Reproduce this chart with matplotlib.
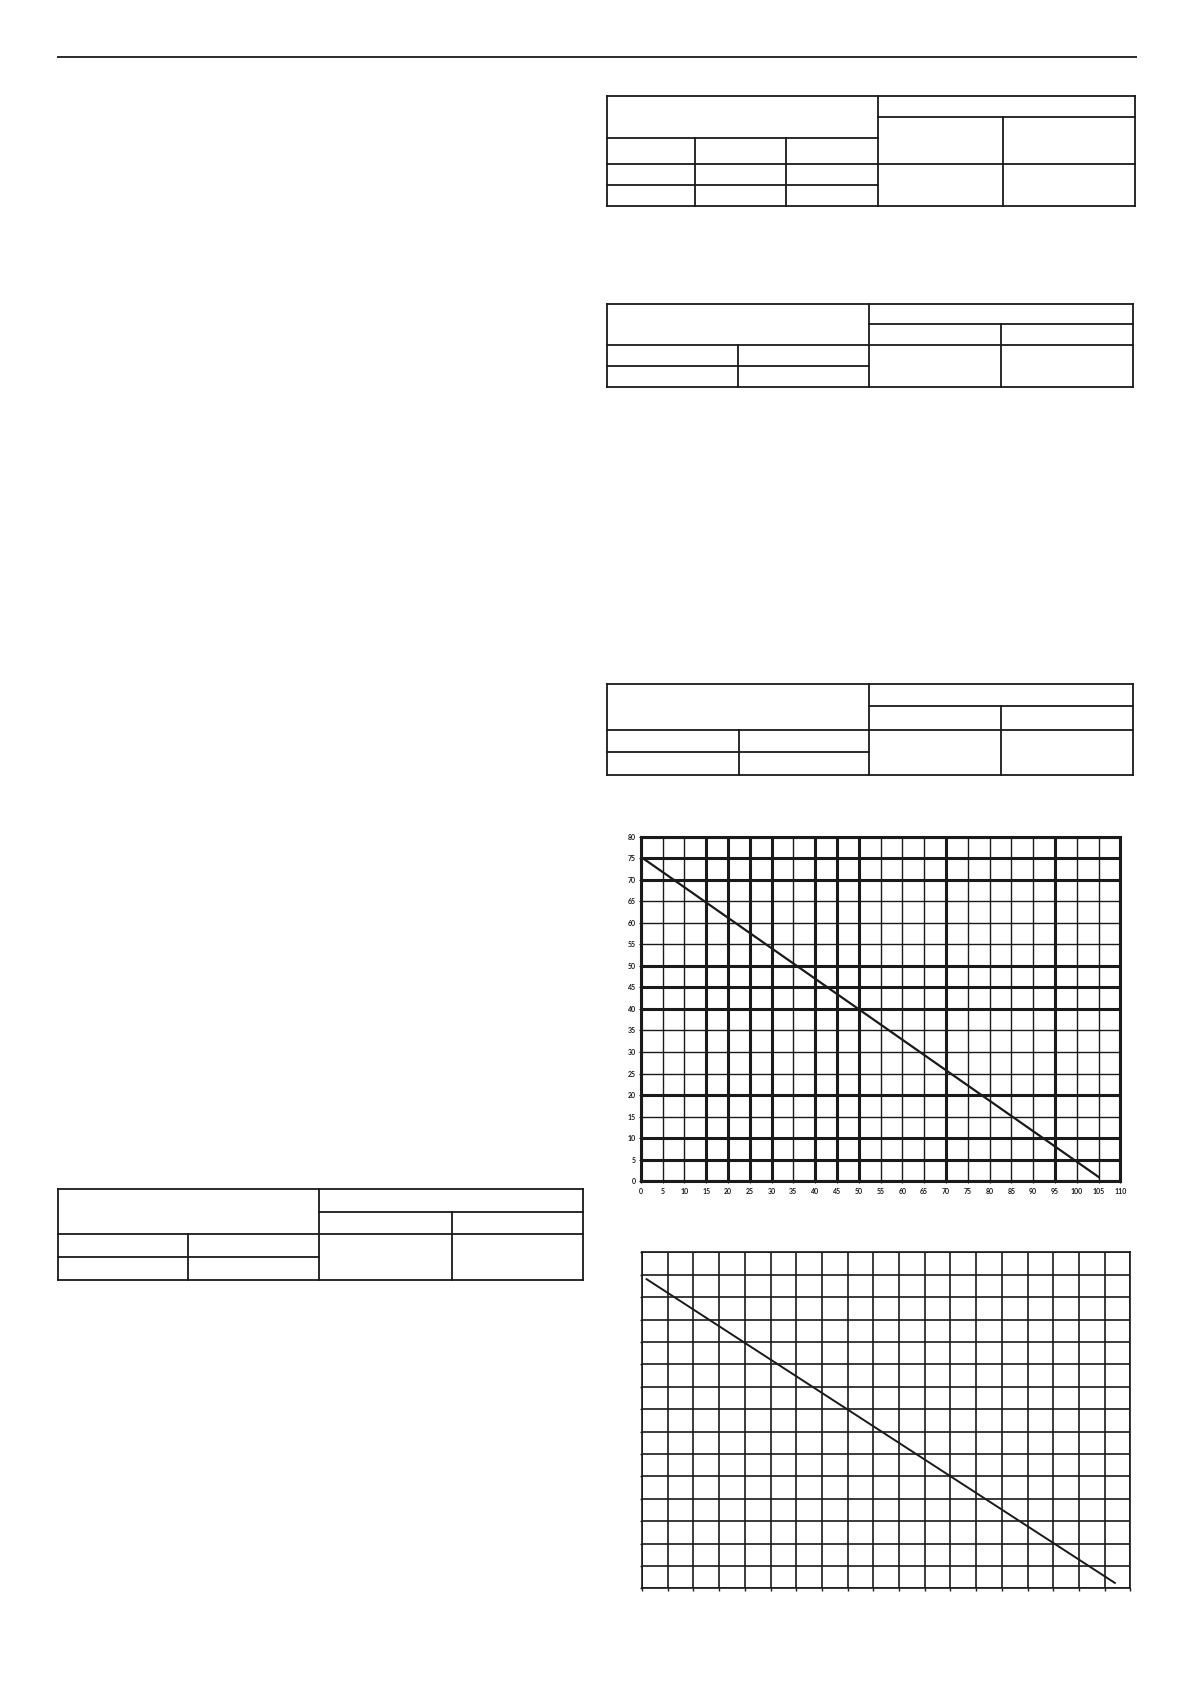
import matplotlib
matplotlib.use("Agg")
import matplotlib.pyplot as plt
import numpy as np

W, H, DPI = 1191, 1684, 100

# ---------------- data ----------------
# Chart 1 (labelled grid chart)
c1_xticks = list(range(0, 115, 5))
c1_yticks = list(range(0, 85, 5))
c1_thick_x = [0, 15, 20, 25, 30, 40, 45, 50, 70, 95, 110]
c1_thick_y = [0, 5, 10, 20, 40, 45, 50, 70, 75, 80]
c1_line_x = [0.5, 105]
c1_line_y = [75, 1]

# Chart 2 (unlabelled grid chart)
c2_xticks = list(range(0, 100, 5))
c2_yticks = list(range(0, 80, 5))
c2_line_x = [0.9, 92.0]
c2_line_y = [69.0, 1.2]

fig = plt.figure(figsize=(W / DPI, H / DPI), dpi=DPI)
fig.patch.set_facecolor("white")

# background axes in pixel coordinates for rules / empty tables
bg = fig.add_axes([0, 0, 1, 1])
bg.set_xlim(0, W)
bg.set_ylim(H, 0)
bg.axis("off")

LC = "#1a1a1a"
# top rule
bg.plot([57, 1137], [57.3, 57.3], color=LC, lw=1.3, solid_capstyle="butt")


def seg(x0, x1, y0, y1, lw=1.3):
    bg.plot([x0, x1], [y0, y1], color=LC, lw=lw, solid_capstyle="projecting")


# Table 1 (3-column left block, 2-column right block)
L, a, b, c2, c3, R = 607, 695.4, 786.4, 877.5, 1003.2, 1134.6
T, r1, r2, r3, r4, B = 96, 117.3, 138.3, 164.3, 185.3, 206.3
seg(L, R, T, T); seg(L, R, B, B); seg(L, L, T, B); seg(R, R, T, B)
seg(c2, c2, T, B)
seg(a, a, r2, B); seg(b, b, r2, B)
seg(c3, c3, r1, B)
seg(c2, R, r1, r1)
seg(L, c2, r2, r2)
seg(L, R, r3, r3)
seg(L, c2, r4, r4)


def table2(L, c1, c2, c3, R, T, r1, r2, r3, B):
    seg(L, R, T, T); seg(L, R, B, B); seg(L, L, T, B); seg(R, R, T, B)
    seg(c2, c2, T, B)
    seg(c1, c1, r2, B)
    seg(c3, c3, r1, B)
    seg(c2, R, r1, r1)
    seg(L, R, r2, r2)
    seg(L, c2, r3, r3)


table2(607.1, 738.2, 869.3, 1001.4, 1132.5, 304.3, 324.3, 345.3, 366.3, 387)
table2(607.4, 738.5, 869.4, 1001.3, 1132.8, 683.7, 706.3, 729.7, 752.3, 775.3)
table2(57.5, 188.2, 319.3, 451.8, 582.5, 1188.7, 1211.7, 1234.3, 1257.3, 1280)


def add_ax(left, right, top, bottom):
    return fig.add_axes([left / W, 1 - bottom / H, (right - left) / W, (bottom - top) / H])


# ---------------- Chart 1 ----------------
ax1 = add_ax(640.7, 1120.3, 836.7, 1181.2)
ax1.set_xlim(c1_xticks[0], c1_xticks[-1])
ax1.set_ylim(c1_yticks[0], c1_yticks[-1])
for xv in c1_xticks:
    ax1.axvline(xv, color=LC, lw=2.2 if xv in c1_thick_x else 1.0, zorder=1)
for yv in c1_yticks:
    ax1.axhline(yv, color=LC, lw=2.2 if yv in c1_thick_y else 1.0, zorder=1)
ax1.plot(c1_line_x, c1_line_y, color=LC, lw=1.6, zorder=3)
ax1.set_xticks(c1_xticks)
ax1.set_yticks(c1_yticks)
ax1.set_xticklabels([str(v) for v in c1_xticks], fontfamily="Lato", fontweight="bold")
ax1.set_yticklabels([str(v) for v in c1_yticks], fontfamily="Lato", fontweight="bold")
ax1.tick_params(axis="x", length=1.5, width=0.8, pad=3.5, labelsize=5, colors=LC)
ax1.tick_params(axis="y", length=1.5, width=0.8, pad=2.0, labelsize=5, colors=LC)
for s in ax1.spines.values():
    s.set_linewidth(2.2)
    s.set_color(LC)

# ---------------- Chart 2 ----------------
ax2 = add_ax(642, 1130.3, 1252.3, 1588.3)
ax2.set_xlim(c2_xticks[0], c2_xticks[-1])
ax2.set_ylim(c2_yticks[0], c2_yticks[-1])
for xv in c2_xticks:
    ax2.axvline(xv, color=LC, lw=1.2, zorder=1)
for yv in c2_yticks:
    ax2.axhline(yv, color=LC, lw=1.2, zorder=1)
ax2.plot(c2_line_x, c2_line_y, color=LC, lw=1.4, zorder=3)
ax2.set_xticks(c2_xticks)
ax2.set_yticks(c2_yticks)
ax2.set_xticklabels([])
ax2.set_yticklabels([])
ax2.tick_params(length=1.8, width=1.0, colors=LC)
for s in ax2.spines.values():
    s.set_linewidth(1.2)
    s.set_color(LC)

fig.savefig("out.png", dpi=DPI, facecolor="white")
